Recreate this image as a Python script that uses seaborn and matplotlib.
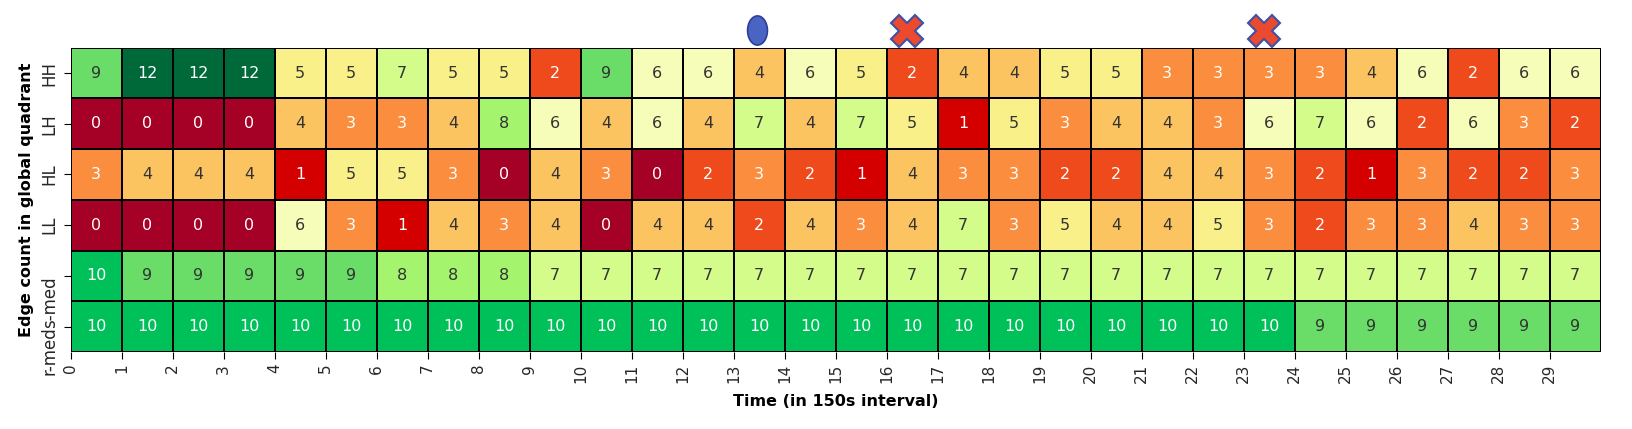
import matplotlib

matplotlib.use("Agg")
import matplotlib.pyplot as plt
import numpy as np
import pandas as pd
import seaborn as sns
from matplotlib.colors import ListedColormap
from matplotlib.path import Path
from matplotlib.transforms import Affine2D, ScaledTranslation

quadrants = ["HH", "LH", "HL", "LL", "s-med", "r-med"]
times = list(range(30))

hh = [9, 12, 12, 12, 5, 5, 7, 5, 5, 2, 9, 6, 6, 4, 6, 5, 2, 4, 4, 5, 5, 3, 3, 3, 3, 4, 6, 2, 6, 6]
lh = [0, 0, 0, 0, 4, 3, 3, 4, 8, 6, 4, 6, 4, 7, 4, 7, 5, 1, 5, 3, 4, 4, 3, 6, 7, 6, 2, 6, 3, 2]
hl = [3, 4, 4, 4, 1, 5, 5, 3, 0, 4, 3, 0, 2, 3, 2, 1, 4, 3, 3, 2, 2, 4, 4, 3, 2, 1, 3, 2, 2, 3]
ll = [0, 0, 0, 0, 6, 3, 1, 4, 3, 4, 0, 4, 4, 2, 4, 3, 4, 7, 3, 5, 4, 4, 5, 3, 2, 3, 3, 4, 3, 3]
s_med = [10, 9, 9, 9, 9, 9, 8, 8, 8] + [7] * 21
r_med = [10] * 24 + [9] * 6

# one colour per edge count 0..12
level_colors = [
    "#a50026", "#d40000", "#ee4a1c", "#fb8e3e", "#fcc460", "#f9f08a", "#f6fdb8",
    "#d3fc8a", "#a4f46e", "#69dd67", "#00c05a", "#009a4a", "#00693a",
]

# events marked above the heatmap
ellipse_events = [13]
cross_events = [16, 23]

counts = pd.DataFrame([hh, lh, hl, ll, s_med, r_med], index=quadrants, columns=times)

fig = plt.figure(figsize=(16.32, 4.29), dpi=100)
ax = fig.add_axes([0.0433, 0.1795, 0.9375, 0.7093])
sns.heatmap(
    counts,
    ax=ax,
    cmap=ListedColormap(level_colors),
    vmin=-0.5,
    vmax=12.5,
    annot=True,
    fmt="d",
    cbar=False,
    linewidths=1.3,
    linecolor="black",
    annot_kws={"fontsize": 11.5},
)

for txt, v in zip(ax.texts, counts.values.ravel()):
    txt.set_color("white" if v <= 3 or v >= 10 else "0.2")

ax.set_xticks(times)
ax.set_xticklabels([str(t) for t in times], rotation=90, fontsize=11, color="0.15")
ax.set_yticklabels(quadrants, rotation=90, va="center", fontsize=12, color="0.15")
shift = ScaledTranslation(0, 0.08, fig.dpi_scale_trans)
for lbl in ax.get_yticklabels()[4:]:
    lbl.set_va("top")
    lbl.set_transform(lbl.get_transform() + shift)
ax.tick_params(axis="both", length=5, color="black")

ax.set_xlabel("Time (in 150s interval)", fontsize=11.5, fontweight="bold", labelpad=8)
ax.set_ylabel("Edge count in global quadrant", fontsize=11.5, fontweight="bold", labelpad=5)

ellipse = Path.unit_circle().transformed(Affine2D().scale(0.68, 1.0))
ax.plot(
    [c + 0.45 for c in ellipse_events], [-0.35] * len(ellipse_events),
    marker=ellipse, ms=21, mfc="#4a64c4", mec="#2d3f9a", mew=1.2,
    ls="none", clip_on=False,
)
ax.plot(
    [c + 0.4 for c in cross_events], [-0.32] * len(cross_events),
    marker="X", ms=23, mfc="#ec4a2e", mec="#3c52a8", mew=1.5,
    ls="none", clip_on=False,
)

fig.savefig("out.png", dpi=100)
